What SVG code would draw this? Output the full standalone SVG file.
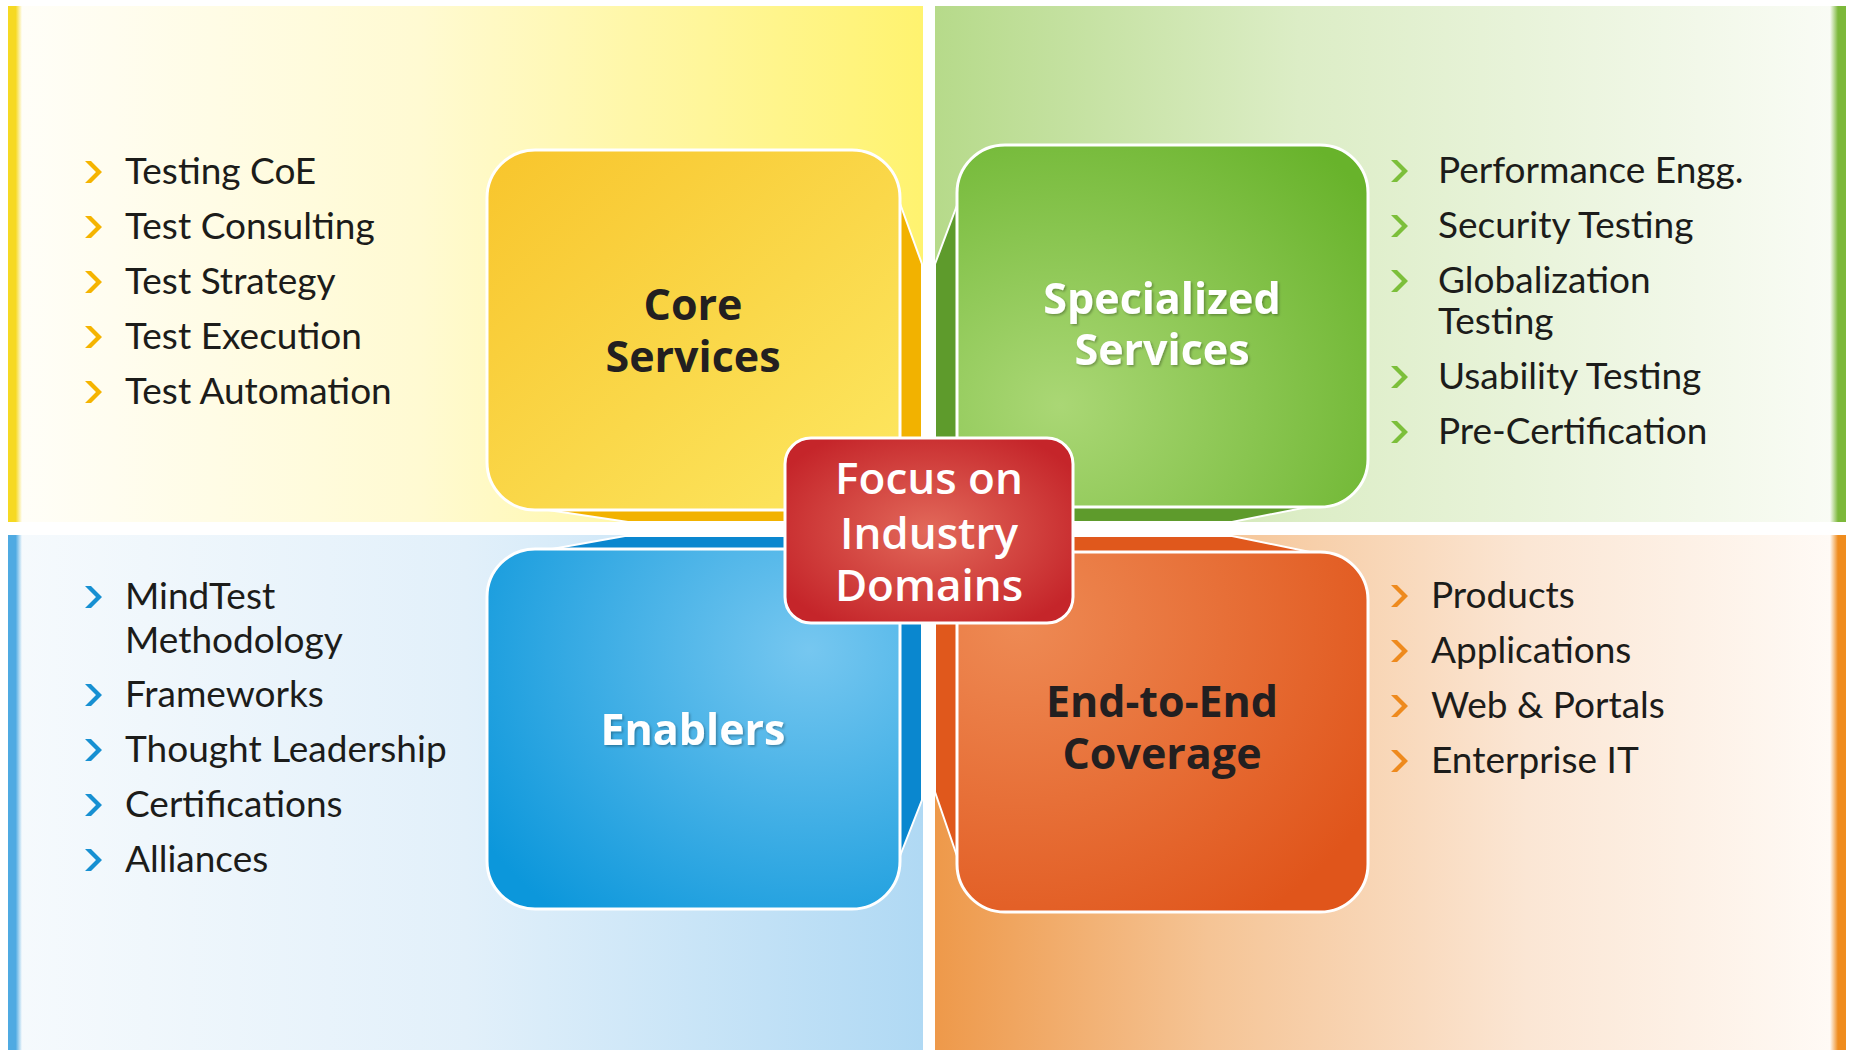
<svg xmlns="http://www.w3.org/2000/svg" width="1853" height="1050" viewBox="0 0 1853 1050">
<defs>
  <linearGradient id="gY" x1="0" y1="0" x2="1" y2="0">
    <stop offset="0" stop-color="#FFFEF9"/>
    <stop offset="0.45" stop-color="#FFFAD2"/>
    <stop offset="1" stop-color="#FFF36F"/>
  </linearGradient>
  <linearGradient id="gG" x1="0" y1="0" x2="1" y2="0">
    <stop offset="0" stop-color="#B6DA8A"/>
    <stop offset="0.4" stop-color="#DCEDC6"/>
    <stop offset="1" stop-color="#FAFCF6"/>
  </linearGradient>
  <linearGradient id="gB" x1="0" y1="0" x2="1" y2="0">
    <stop offset="0" stop-color="#F6FAFD"/>
    <stop offset="0.5" stop-color="#E2F0FA"/>
    <stop offset="1" stop-color="#B0D9F4"/>
  </linearGradient>
  <linearGradient id="gO" x1="0" y1="0" x2="1" y2="0">
    <stop offset="0" stop-color="#EE994A"/>
    <stop offset="0.3" stop-color="#F5C495"/>
    <stop offset="0.65" stop-color="#FBE6D4"/>
    <stop offset="1" stop-color="#FFFBF7"/>
  </linearGradient>
  <linearGradient id="sY" x1="0" y1="0" x2="1" y2="0">
    <stop offset="0" stop-color="#F6D923"/>
    <stop offset="0.55" stop-color="#F6D923"/>
    <stop offset="1" stop-color="#F6D923" stop-opacity="0"/>
  </linearGradient>
  <linearGradient id="sB" x1="0" y1="0" x2="1" y2="0">
    <stop offset="0" stop-color="#4FAAE2"/>
    <stop offset="0.55" stop-color="#4FAAE2"/>
    <stop offset="1" stop-color="#4FAAE2" stop-opacity="0"/>
  </linearGradient>
  <linearGradient id="sG" x1="0" y1="0" x2="1" y2="0">
    <stop offset="0" stop-color="#7CB83A" stop-opacity="0"/>
    <stop offset="0.5" stop-color="#7CB83A"/>
    <stop offset="1" stop-color="#7CB83A"/>
  </linearGradient>
  <linearGradient id="sO" x1="0" y1="0" x2="1" y2="0">
    <stop offset="0" stop-color="#EF8C1E" stop-opacity="0"/>
    <stop offset="0.5" stop-color="#EF8C1E"/>
    <stop offset="1" stop-color="#EF8C1E"/>
  </linearGradient>
  <linearGradient id="bY" x1="0" y1="0" x2="1" y2="1">
    <stop offset="0" stop-color="#F8C52C"/>
    <stop offset="0.55" stop-color="#FAD84A"/>
    <stop offset="1" stop-color="#FDE862"/>
  </linearGradient>
  <radialGradient id="bG" cx="0.25" cy="0.72" r="0.95">
    <stop offset="0" stop-color="#AAD775"/>
    <stop offset="1" stop-color="#68B32B"/>
  </radialGradient>
  <radialGradient id="bB" cx="0.78" cy="0.28" r="0.95">
    <stop offset="0" stop-color="#76C7F0"/>
    <stop offset="1" stop-color="#0C97DB"/>
  </radialGradient>
  <radialGradient id="bO" cx="0.15" cy="0.2" r="1">
    <stop offset="0" stop-color="#EE8A54"/>
    <stop offset="1" stop-color="#E0551B"/>
  </radialGradient>
  <radialGradient id="bR" cx="0.5" cy="0.5" r="0.6">
    <stop offset="0" stop-color="#E2695A"/>
    <stop offset="1" stop-color="#C5252A"/>
  </radialGradient>
  <path id="chev" d="M0,-11 h6 l11,11 l-11,11 h-6 l11,-11 z"/>
  <filter id="sh" x="-10%" y="-10%" width="120%" height="130%">
    <feDropShadow dx="1.5" dy="1.5" stdDeviation="1" flood-color="#000" flood-opacity="0.3"/>
  </filter>
</defs>
<style>
  .item{font-family:Lato,"Open Sans","Liberation Sans",sans-serif;font-size:37px;fill:#1C1C1A}
  .head{font-family:"Open Sans","Liberation Sans",sans-serif;font-weight:700;font-size:43px;text-anchor:middle}
  .dark{fill:#231F20}
  .light{fill:#FFFFFF;filter:url(#sh)}
  .box{stroke:#FFFFFF;stroke-width:3}
  .face{stroke:#FFFFFF;stroke-width:2;stroke-linejoin:round}
  .center{font-family:"Open Sans","Liberation Sans",sans-serif;font-weight:600;font-size:44px;text-anchor:middle;fill:#FFFFFF}
</style>
<rect x="0" y="0" width="1853" height="1050" fill="#FFFFFF"/>

<g id="panels">
  <rect x="8" y="6" width="915" height="516" fill="url(#gY)"/>
  <rect x="8" y="6" width="14" height="516" fill="url(#sY)"/>
  <rect x="935" y="6" width="911" height="516" fill="url(#gG)"/>
  <rect x="1830" y="6" width="16" height="516" fill="url(#sG)"/>
  <rect x="8" y="535" width="915" height="515" fill="url(#gB)"/>
  <rect x="8" y="535" width="14" height="515" fill="url(#sB)"/>
  <rect x="935" y="535" width="911" height="515" fill="url(#gO)"/>
  <rect x="1830" y="535" width="16" height="515" fill="url(#sO)"/>
</g>

<g id="connectors"></g>

<g id="core-services">
  <polygon class="face" fill="#F2B200" points="898,198 922,264 922,522 628,522 548,510 898,510"/>
  <rect class="box" x="487" y="150" width="413" height="360" rx="48" fill="url(#bY)"/>
  <text class="head dark" x="693" y="320">Core<tspan x="693" y="372">Services</tspan></text>
</g>

<g id="specialized-services">
  <polygon class="face" fill="#5E9B2C" points="959,200 935,264 935,522 1232,522 1308,507 959,507"/>
  <rect class="box" x="957" y="145" width="411" height="362" rx="48" fill="url(#bG)"/>
  <text class="head light" x="1162" y="314">Specialized<tspan x="1162" y="365">Services</tspan></text>
</g>

<g id="enablers">
  <polygon class="face" fill="#0A87CF" points="552,549 625,536 922,536 922,800 900,856 900,549"/>
  <rect class="box" x="487" y="549" width="413" height="360" rx="48" fill="url(#bB)"/>
  <text class="head light" x="693" y="745">Enablers</text>
</g>

<g id="end-to-end-coverage">
  <polygon class="face" fill="#E0581C" points="1310,552 1232,536 935,536 935,792 957,856 957,552"/>
  <rect class="box" x="957" y="552" width="411" height="360" rx="48" fill="url(#bO)"/>
  <text class="head dark" x="1162" y="717">End-to-End<tspan x="1162" y="769">Coverage</tspan></text>
</g>

<g id="focus-industry-domains">
  <rect class="box" x="785" y="438" width="288" height="185" rx="26" fill="url(#bR)"/>
  <text class="center" x="929" y="494">Focus on<tspan x="929" y="549">Industry</tspan><tspan x="929" y="601">Domains</tspan></text>
</g>

<g id="core-list">
  <use href="#chev" x="85" y="172" fill="#F5B400"/>
  <use href="#chev" x="85" y="227" fill="#F5B400"/>
  <use href="#chev" x="85" y="282" fill="#F5B400"/>
  <use href="#chev" x="85" y="337" fill="#F5B400"/>
  <use href="#chev" x="85" y="392" fill="#F5B400"/>
  <text class="item" x="125" y="184">Testing CoE</text>
  <text class="item" x="125" y="239">Test Consulting</text>
  <text class="item" x="125" y="294">Test Strategy</text>
  <text class="item" x="125" y="349">Test Execution</text>
  <text class="item" x="125" y="404">Test Automation</text>
</g>

<g id="specialized-list">
  <use href="#chev" x="1391" y="171" fill="#7CBF3A"/>
  <use href="#chev" x="1391" y="226" fill="#7CBF3A"/>
  <use href="#chev" x="1391" y="281" fill="#7CBF3A"/>
  <use href="#chev" x="1391" y="377" fill="#7CBF3A"/>
  <use href="#chev" x="1391" y="432" fill="#7CBF3A"/>
  <text class="item" x="1438" y="183">Performance Engg.</text>
  <text class="item" x="1438" y="238">Security Testing</text>
  <text class="item" x="1438" y="293">Globalization<tspan x="1438" y="334">Testing</tspan></text>
  <text class="item" x="1438" y="389">Usability Testing</text>
  <text class="item" x="1438" y="444">Pre-Certification</text>
</g>

<g id="enablers-list">
  <use href="#chev" x="85" y="597" fill="#1790D2"/>
  <use href="#chev" x="85" y="695" fill="#1790D2"/>
  <use href="#chev" x="85" y="750" fill="#1790D2"/>
  <use href="#chev" x="85" y="805" fill="#1790D2"/>
  <use href="#chev" x="85" y="860" fill="#1790D2"/>
  <text class="item" x="125" y="609">MindTest<tspan x="125" y="653">Methodology</tspan></text>
  <text class="item" x="125" y="707">Frameworks</text>
  <text class="item" x="125" y="762">Thought Leadership</text>
  <text class="item" x="125" y="817">Certifications</text>
  <text class="item" x="125" y="872">Alliances</text>
</g>

<g id="coverage-list">
  <use href="#chev" x="1391" y="596" fill="#EE8A1E"/>
  <use href="#chev" x="1391" y="651" fill="#EE8A1E"/>
  <use href="#chev" x="1391" y="706" fill="#EE8A1E"/>
  <use href="#chev" x="1391" y="761" fill="#EE8A1E"/>
  <text class="item" x="1431" y="608">Products</text>
  <text class="item" x="1431" y="663">Applications</text>
  <text class="item" x="1431" y="718">Web &amp; Portals</text>
  <text class="item" x="1431" y="773">Enterprise IT</text>
</g>
</svg>
